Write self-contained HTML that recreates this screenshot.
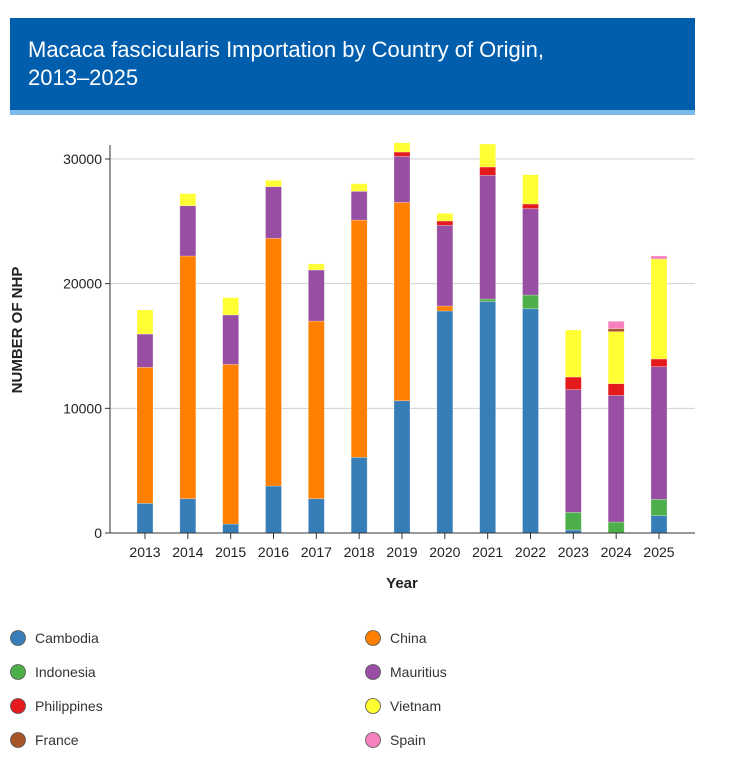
<!DOCTYPE html>
<html><head><meta charset="utf-8">
<style>
body{margin:0;background:#fff;width:736px;height:758px;overflow:hidden;font-family:"Liberation Sans",sans-serif;}
#title{position:absolute;left:10px;top:18px;width:685px;height:92px;background:#005ead;border-bottom:5px solid #7cb9e8;box-sizing:content-box;}
#title h1{margin:0;padding:18px 18px;font-weight:normal;color:#fff;font-size:22px;line-height:28px;}
svg{position:absolute;left:0;top:0;}
</style></head><body>
<div id="title"><h1>Macaca fascicularis Importation by Country of Origin,<br>2013–2025</h1></div>
<svg id="chart" width="736" height="758"></svg>
<script>
const years=["2013","2014","2015","2016","2017","2018","2019","2020","2021","2022","2023","2024","2025"];
const seriesNames=["Cambodia","China","Indonesia","Mauritius","Philippines","Vietnam","France","Spain"];
const colors=["#377eb8","#ff7f00","#4daf4a","#984ea3","#e41a1c","#ffff33","#a65628","#f781bf"];
const cambodia=[2380,2750,720,3770,2750,6070,10610,17810,18560,17990,240,0,1390];
const china=[10910,19470,12810,19870,14250,19030,15910,400,0,0,0,0,0];
const indonesia=[0,0,0,0,0,0,0,0,210,1100,1420,880,1310];
const mauritius=[2670,4030,3960,4140,4100,2310,3690,6470,9920,6930,9840,10160,10640];
const philippines=[0,0,0,0,0,0,350,350,670,370,1010,940,620];
const vietnam=[1930,970,1390,510,480,610,740,610,1840,2350,3770,4170,8020];
const france=[0,0,0,0,0,0,0,0,0,0,0,240,0];
const spain=[0,0,0,0,0,0,0,0,0,0,0,590,240];
const yTicks=[0,10000,20000,30000];
const stackOrder=[cambodia,china,indonesia,mauritius,philippines,vietnam,france,spain];
const NS="http://www.w3.org/2000/svg";
const svg=document.getElementById('chart');
const x0=110,x1=695,y0=533,yTop=159;
const yScale=v=>y0-(v/30000)*(y0-yTop);
const step=(659-145)/12;
const xScale=i=>145+i*step;
function mk(t,a){const e=document.createElementNS(NS,t);for(const k in a)e.setAttribute(k,a[k]);svg.appendChild(e);return e;}
yTicks.forEach(v=>{
  const y=yScale(v);
  if(v>0){const g=mk('line',{x1:x0,x2:x1,y1:y,y2:y,stroke:'#d0d0d0','stroke-width':1});
  
  }
  mk('line',{x1:x0-5,x2:x0,y1:y,y2:y,stroke:'#333'});
  const t=mk('text',{x:x0-8,y:y+5,'text-anchor':'end','font-size':14,fill:'#222'});t.textContent=v;
  
  
});
years.forEach((yr,i)=>{
  let acc=0;
  stackOrder.forEach((s,k)=>{
    const v=s[i];if(!v)return;
    const r=mk('rect',{x:xScale(i)-8,width:16,y:yScale(acc+v),height:yScale(acc)-yScale(acc+v),fill:colors[k],stroke:'rgba(255,255,255,0.35)','stroke-width':0.7});
    
    
    acc+=v;
  });
  mk('line',{x1:xScale(i),x2:xScale(i),y1:y0,y2:y0+6,stroke:'#333'});
  const t=mk('text',{x:xScale(i),y:y0+24,'text-anchor':'middle','font-size':14,fill:'#222'});t.textContent=yr;
  
  
});
const ax=mk('line',{x1:x0,x2:x0,y1:145,y2:y0,stroke:'#333'});


const bx=mk('line',{x1:x0,x2:x1,y1:y0,y2:y0,stroke:'#333'});


const xt=mk('text',{x:402,y:588,'text-anchor':'middle','font-size':15,'font-weight':'bold',fill:'#222'});xt.textContent='Year';


const yt=mk('text',{x:22,y:330,'text-anchor':'middle','font-size':15,'font-weight':'bold',fill:'#222',transform:'rotate(-90 22 330)'});yt.textContent='NUMBER OF NHP';


seriesNames.forEach((n,k)=>{
  const cx=k%2?373:18, cy=638+Math.floor(k/2)*34;
  const c=mk('circle',{cx:cx,cy:cy,r:7.5,fill:colors[k],stroke:'#555','stroke-width':0.8});
  
  
  const t=mk('text',{x:cx+17,y:cy+5,'font-size':14,fill:'#333'});t.textContent=n;
  
  
});
</script>
</body></html>
